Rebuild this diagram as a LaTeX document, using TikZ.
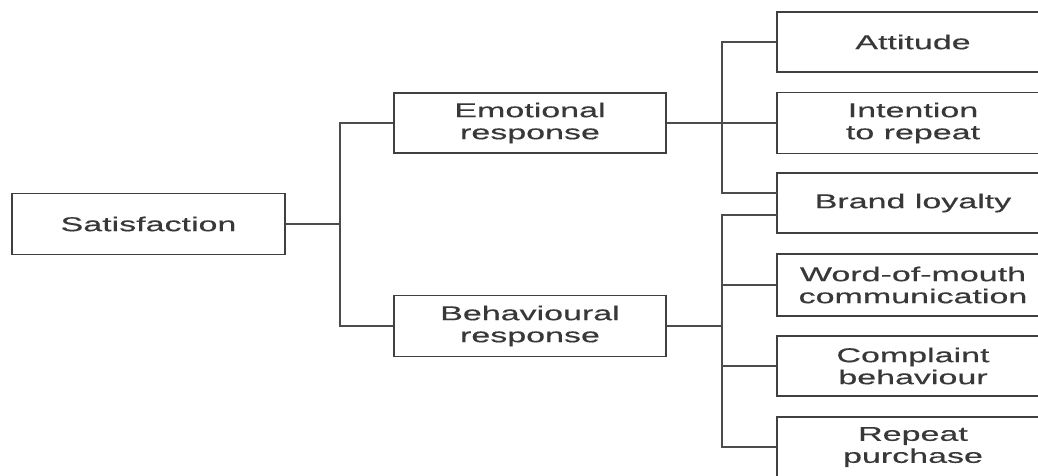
\documentclass[tikz,border=0pt]{standalone}
\usepackage{fontspec}
\setmainfont{Liberation Sans}[FakeStretch=1.7,FakeBold=0.4]
\begin{document}
\begin{tikzpicture}[x=1pt,y=-1pt,
  box/.style={draw=black!75, line width=1.7pt, minimum width=272pt, minimum height=60pt,
    align=center, inner sep=0pt, text=black!78, font=\fontsize{20}{22}\selectfont},
  conn/.style={draw=black!70, line width=1.3pt}]
\useasboundingbox (0,0) rectangle (1038,475);
\clip (0,0) rectangle (1038,475);
\fill[white] (0,0) rectangle (1038,475);
% nodes
\node[box, minimum width=273pt, minimum height=61pt] (sat) at (148.5,224) {Satisfaction};
\node[box] (emo) at (530,123) {Emotional\\response};
\node[box, minimum height=61pt] (beh) at (530,326) {Behavioural\\response};
\node[box] (att) at (913,42) {Attitude};
\node[box, minimum height=61pt] (int) at (913,123) {Intention\\to repeat};
\node[box] (brand) at (913,203) {Brand loyalty};
\node[box, minimum height=62pt] (wom) at (913,285) {Word-of-mouth\\communication};
\node[box] (comp) at (913,366) {Complaint\\behaviour};
\node[box] (rep) at (913,447) {Repeat\\purchase};
% junctions
\coordinate (j1) at (340,224);
\coordinate (b1) at (777,193);
\coordinate (b2) at (777,215);
\coordinate (je) at (722,123);
\coordinate (jb) at (722,326);
% connectors
\draw[conn] (sat.east) -- (j1);
\draw[conn] (emo.west) -| (j1) |- (beh.west);
\draw[conn] (emo.east) -- (int.west);
\draw[conn] (att.west) -| (je) |- (b1);
\draw[conn] (beh.east) -- (jb);
\draw[conn] (b2) -| (jb) |- (rep.west);
\draw[conn] (wom.west) -- ++(-55,0);
\draw[conn] (comp.west) -- ++(-55,0);
\end{tikzpicture}
\end{document}
